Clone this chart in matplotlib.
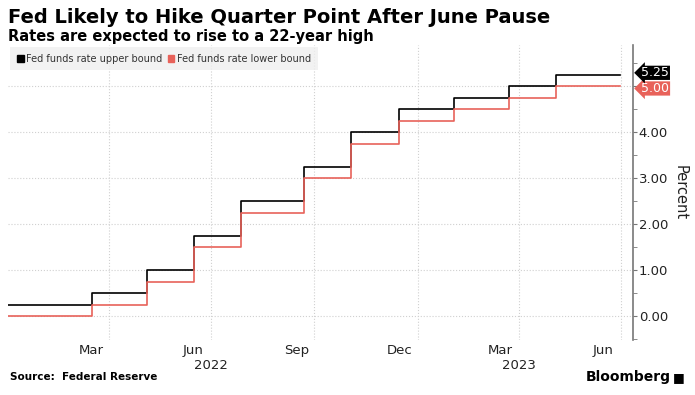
import pandas as pd
import matplotlib.pyplot as plt
import matplotlib.dates as mdates
from matplotlib.ticker import MultipleLocator, FixedLocator
from matplotlib.patches import Rectangle

# rate decision dates and the target range after each one
change_dates = ['2022-01-01', '2022-03-17', '2022-05-05', '2022-06-16', '2022-07-28',
                '2022-09-22', '2022-11-03', '2022-12-15', '2023-02-02', '2023-03-23',
                '2023-05-04', '2023-06-30']
upper_bound = [0.25, 0.50, 1.00, 1.75, 2.50, 3.25, 4.00, 4.50, 4.75, 5.00, 5.25, 5.25]
lower_bound = [0.00, 0.25, 0.75, 1.50, 2.25, 3.00, 3.75, 4.25, 4.50, 4.75, 5.00, 5.00]

month_labels = ['Mar', 'Jun', 'Sep', 'Dec', 'Mar', 'Jun']
month_pos = ['2022-03-16', '2022-06-15', '2022-09-15', '2022-12-16', '2023-03-16', '2023-06-15']
grid_pos = ['2022-04-01', '2022-07-01', '2022-10-01', '2023-01-01', '2023-04-01', '2023-07-01']
series_names = ['Fed funds rate upper bound', 'Fed funds rate lower bound']

dates = pd.to_datetime(change_dates)
black = '#000000'
red = '#e8625a'

fig = plt.figure(figsize=(6.95, 3.95), dpi=100)
ax = fig.add_axes([0.0115, 0.139, 0.8995, 0.747])

ax.step(dates, upper_bound, where='post', color=black, lw=1.2, zorder=3)
ax.step(dates, lower_bound, where='post', color=red, lw=1.2, zorder=3)

ax.set_xlim(pd.Timestamp('2022-01-01'), pd.Timestamp('2023-07-12'))
ax.set_ylim(-0.52, 5.9)

for s in ['top', 'left', 'bottom']:
    ax.spines[s].set_visible(False)
ax.spines['right'].set_color('#777777')
ax.spines['right'].set_linewidth(1.2)

ax.yaxis.tick_right()
ax.yaxis.set_major_locator(MultipleLocator(1))
ax.yaxis.set_minor_locator(MultipleLocator(0.5))
# the 5.00 tick label sits under the last-value tag, so leave it out
ax.yaxis.set_major_formatter(lambda v, p: f'{v:.2f}' if v < 4.5 else '')
ax.tick_params(axis='y', which='both', direction='out', length=3, color='#777777',
               labelsize=9.5, pad=1, labelcolor='#222222')
ax.grid(axis='y', which='major', color='#d0d0d0', linestyle=':', lw=0.8)

ax.xaxis.set_major_locator(FixedLocator(mdates.date2num(pd.to_datetime(month_pos))))
ax.set_xticklabels(month_labels)
ax.xaxis.set_minor_locator(FixedLocator(mdates.date2num(pd.to_datetime(grid_pos))))
ax.tick_params(axis='x', which='both', length=0, labelsize=9.5, pad=3, labelcolor='#222222')
ax.grid(axis='x', which='minor', color='#d0d0d0', linestyle=':', lw=0.8)

# year labels under the months
for yr, pos in [('2022', '2022-07-01'), ('2023', '2023-04-01')]:
    ax.text(mdates.date2num(pd.Timestamp(pos)), -0.065, yr, transform=ax.get_xaxis_transform(),
            ha='center', va='top', fontsize=9.5, color='#222222')

ax.yaxis.set_label_position('right')
ax.set_ylabel('Percent', rotation=-90, fontsize=10.5, labelpad=14, color='#222222')

# square markers for legend
leg_handles = [Rectangle((0, 0), 1, 1, color=black), Rectangle((0, 0), 1, 1, color=red)]
leg = ax.legend(leg_handles, series_names,
                loc='upper left', bbox_to_anchor=(0, 1.0), ncol=2, frameon=True, fontsize=7.0,
                handlelength=0.7, handleheight=0.7, handletextpad=0.3, columnspacing=0.5,
                borderaxespad=0.25, borderpad=0.65, fancybox=False)
leg.get_frame().set_facecolor('#efefef')
leg.get_frame().set_edgecolor('none')
for txt in leg.get_texts():
    txt.set_color('#333333')

# last value tags
for val, c, dy in [(lower_bound[-1], red, -1.5), (upper_bound[-1], black, 1.5)]:
    ax.annotate(f'{val:.2f}', xy=(1.0, val), xycoords=('axes fraction', 'data'),
                xytext=(6, dy), textcoords='offset points', ha='left', va='center',
                fontsize=9, color='white',
                bbox=dict(boxstyle='larrow,pad=0.05', fc=c, ec='none'), annotation_clip=False)

fig.text(0.012, 0.955, 'Fed Likely to Hike Quarter Point After June Pause', fontsize=14,
         fontweight='bold', va='center', ha='left')
fig.text(0.012, 0.907, 'Rates are expected to rise to a 22-year high', fontsize=10.5,
         fontweight='bold', va='center', ha='left')
fig.text(0.015, 0.045, 'Source:  Federal Reserve', fontsize=7.5, fontweight='bold', va='center')
fig.text(0.965, 0.045, 'Bloomberg', fontsize=10, fontweight='bold', va='center', ha='right')
fig.text(0.985, 0.045, '\u25a0', fontsize=9, va='center', ha='right')

fig.savefig('out.png', dpi=100)
